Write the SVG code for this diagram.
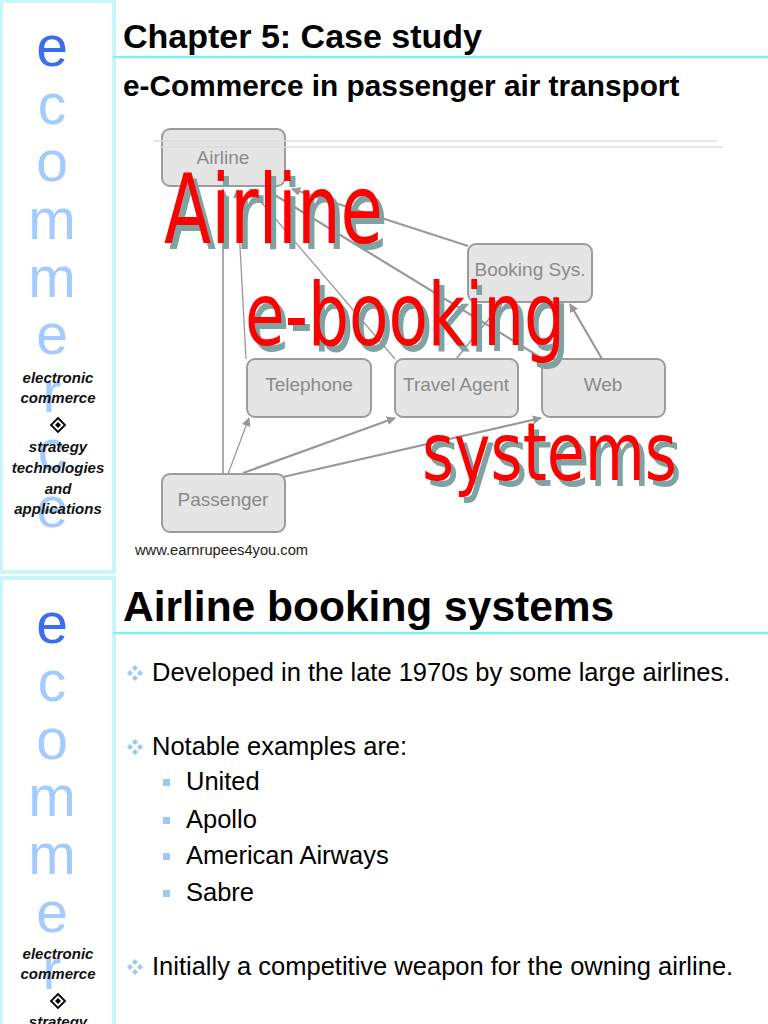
<svg xmlns="http://www.w3.org/2000/svg" width="768" height="1024" viewBox="0 0 768 1024">
<style>
.side{font-family:"Liberation Sans",Arial,sans-serif;font-size:57px;fill:#a3cbff;text-anchor:middle}
.side1{fill:#3b6df0}
.tag{font-family:"Liberation Sans",Arial,sans-serif;font-size:15px;font-weight:bold;font-style:italic;fill:#111;text-anchor:middle}
.h1{font-family:"Liberation Sans",Arial,sans-serif;font-weight:bold;fill:#000}
.node rect{fill:#e5e5e5;stroke:#9c9c9c;stroke-width:2}
.node text{font-family:"Liberation Sans",Arial,sans-serif;font-size:19px;fill:#8a8a8a;text-anchor:middle}
.conn line{stroke:#999;fill:none}
.graf{font-family:"Liberation Sans Narrow","DejaVu Sans Condensed",sans-serif;}
.body{font-family:"Liberation Sans",Arial,sans-serif;font-size:25.5px;fill:#000}
.blt{fill:#9cc8f5}
</style>
<defs>
<marker id="ah" viewBox="0 0 10 10" refX="9" refY="5" markerWidth="9" markerHeight="9" markerUnits="userSpaceOnUse" orient="auto">
<path d="M0,0 L10,5 L0,10 z" fill="#999"/>
</marker>
<g id="dia"><path d="M0,-7 L7,0 L0,7 L-7,0 z" fill="none" stroke="#000" stroke-width="1.8"/><path d="M0,-3 L3,0 L0,3 L-3,0 z" fill="#000"/></g>
<g id="b4"><path d="M0,-8 L3,-5 L0,-2 L-3,-5 z M0,2 L3,5 L0,8 L-3,5 z M-5,-3 L-2,0 L-5,3 L-8,0 z M5,-3 L8,0 L5,3 L2,0 z" class="blt"/></g>
</defs>
<rect width="768" height="1024" fill="#fff"/>

<!-- Slide 1 sidebar -->
<g id="sidebar1">
<rect x="0" y="0" width="116" height="574" fill="#c9f7f9"/>
<rect x="3" y="3" width="109" height="567" fill="#fff"/>
<text class="side side1" x="52" y="66">e</text>
<text class="side" x="52" y="124">c</text>
<text class="side" x="52" y="181">o</text>
<text class="side" x="52" y="239">m</text>
<text class="side" x="52" y="297">m</text>
<text class="side" x="52" y="354">e</text>
<text class="side" x="52" y="412">r</text>
<text class="side" x="52" y="470">c</text>
<text class="side" x="52" y="527">e</text>
<text class="tag" x="58" y="383">electronic</text>
<text class="tag" x="58" y="403">commerce</text>
<use href="#dia" x="58" y="425"/>
<text class="tag" x="58" y="452">strategy</text>
<text class="tag" x="58" y="473">technologies</text>
<text class="tag" x="58" y="494">and</text>
<text class="tag" x="58" y="514">applications</text>
</g>

<!-- Slide 1 header -->
<text class="h1" x="123" y="48" font-size="34">Chapter 5: Case study</text>
<line x1="113" y1="57" x2="768" y2="57" stroke="#86eef2" stroke-width="2.5"/>
<text class="h1" x="123" y="96" font-size="29.8">e-Commerce in passenger air transport</text>

<!-- connectors -->
<g id="connectors" class="conn">
<line x1="223" y1="474" x2="223" y2="189" stroke-width="1.6" marker-end="url(#ah)"/>
<line x1="246" y1="359" x2="237" y2="190" stroke-width="1.3" marker-end="url(#ah)"/>
<line x1="395" y1="359" x2="250" y2="189" stroke-width="1.3" marker-end="url(#ah)"/>
<line x1="543" y1="359" x2="265" y2="189" stroke-width="2.2" marker-end="url(#ah)"/>
<line x1="468" y1="246" x2="292" y2="189" stroke-width="2.2" marker-end="url(#ah)"/>
<line x1="228" y1="474" x2="249" y2="418" stroke-width="1.3" marker-end="url(#ah)"/>
<line x1="243" y1="473" x2="395" y2="418" stroke-width="2.2" marker-end="url(#ah)"/>
<line x1="283" y1="477" x2="541" y2="418" stroke-width="2.2" marker-end="url(#ah)"/>
<line x1="456" y1="359" x2="502" y2="303" stroke-width="1.6" marker-end="url(#ah)"/>
<line x1="602" y1="359" x2="570" y2="304" stroke-width="2.2" marker-end="url(#ah)"/>
</g>

<!-- nodes -->
<g id="airline" class="node"><rect x="162" y="129" width="123" height="57" rx="8"/><text x="223" y="164">Airline</text></g>
<g id="booking" class="node"><rect x="468" y="244" width="124" height="58" rx="8"/><text x="530" y="276">Booking Sys.</text></g>
<g id="telephone" class="node"><rect x="247" y="359" width="124" height="58" rx="8"/><text x="309" y="391">Telephone</text></g>
<g id="travelagent" class="node"><rect x="395" y="359" width="123" height="58" rx="8"/><text x="456" y="391">Travel Agent</text></g>
<g id="web" class="node"><rect x="542" y="359" width="123" height="58" rx="8"/><text x="603" y="391">Web</text></g>
<g id="passenger" class="node"><rect x="162" y="474" width="123" height="58" rx="8"/><text x="223" y="506">Passenger</text></g>

<line x1="153" y1="141" x2="717" y2="141" stroke="#dcdcdc" stroke-width="1.5"/>
<line x1="160" y1="147" x2="723" y2="147" stroke="#dcdcdc" stroke-width="1.5"/>

<!-- graffiti overlay -->
<g class="graf">
<text x="169" y="249" font-size="96" fill="#7fa3a3" textLength="219" lengthAdjust="spacingAndGlyphs">Airline</text>
<text x="164" y="243" font-size="96" fill="#f00" textLength="219" lengthAdjust="spacingAndGlyphs">Airline</text>
<text x="250" y="351" font-size="88" fill="#7fa3a3" textLength="320" lengthAdjust="spacingAndGlyphs">e-booking</text>
<text x="245" y="345" font-size="88" fill="#f00" textLength="320" lengthAdjust="spacingAndGlyphs">e-booking</text>
<text x="427" y="486" font-size="80" fill="#7fa3a3" textLength="255" lengthAdjust="spacingAndGlyphs">systems</text>
<text x="422" y="480" font-size="80" fill="#f00" textLength="255" lengthAdjust="spacingAndGlyphs">systems</text>
</g>

<text x="135" y="555" font-family="Liberation Sans,Arial,sans-serif" font-size="14.7" fill="#222">www.earnrupees4you.com</text>

<!-- Slide 2 sidebar -->
<g id="sidebar2">
<rect x="0" y="576" width="116" height="448" fill="#c9f7f9"/>
<rect x="3" y="580" width="109" height="444" fill="#fff"/>
<text class="side side1" x="52" y="643">e</text>
<text class="side" x="52" y="701">c</text>
<text class="side" x="52" y="759">o</text>
<text class="side" x="52" y="816">m</text>
<text class="side" x="52" y="874">m</text>
<text class="side" x="52" y="932">e</text>
<text class="side" x="52" y="989">r</text>
<text class="tag" x="58" y="959">electronic</text>
<text class="tag" x="58" y="979">commerce</text>
<use href="#dia" x="58" y="1001"/>
<text class="tag" x="58" y="1027">strategy</text>
</g>

<!-- Slide 2 content -->
<text class="h1" x="123" y="621" font-size="42.5">Airline booking systems</text>
<line x1="113" y1="633" x2="768" y2="633" stroke="#86eef2" stroke-width="2.5"/>

<use href="#b4" x="135" y="673"/>
<text class="body" x="152" y="681">Developed in the late 1970s by some large airlines.</text>
<use href="#b4" x="135" y="747"/>
<text class="body" x="152" y="755">Notable examples are:</text>
<rect class="blt" x="163" y="779" width="7" height="7"/>
<text class="body" x="186" y="790">United</text>
<rect class="blt" x="163" y="817" width="7" height="7"/>
<text class="body" x="186" y="828">Apollo</text>
<rect class="blt" x="163" y="853" width="7" height="7"/>
<text class="body" x="186" y="864">American Airways</text>
<rect class="blt" x="163" y="890" width="7" height="7"/>
<text class="body" x="186" y="901">Sabre</text>
<use href="#b4" x="135" y="967"/>
<text class="body" x="152" y="975">Initially a competitive weapon for the owning airline.</text>
</svg>
